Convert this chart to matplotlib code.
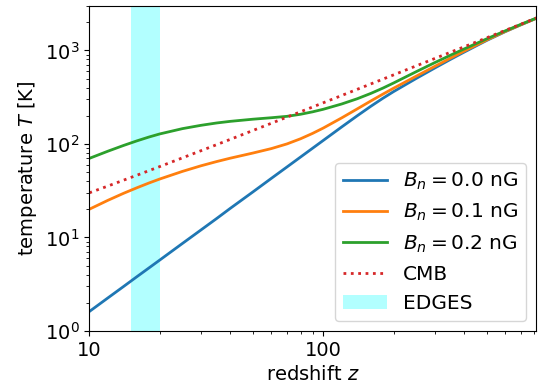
import matplotlib
matplotlib.use("Agg")
import matplotlib.pyplot as plt
from matplotlib.ticker import ScalarFormatter, NullFormatter

# redshift grid and gas temperatures (K)
z = [10, 12, 14, 16, 18, 20, 25, 30, 35, 40, 50, 60, 70, 80, 90, 100,
     120, 140, 160, 180, 200, 250, 300, 350, 400, 500, 600, 700, 815]
T_b00 = [1.61, 2.25, 2.98, 3.81, 4.72, 5.72, 8.61, 12.0, 15.9, 20.4, 30.6, 42.8, 56.7, 72.4, 89.8, 108.9,
         152, 200.6, 253.3, 308, 363, 502, 649, 802, 958, 1279, 1587, 1879, 2205]
T_b01 = [20.0, 24.9, 29.6, 34.0, 38.2, 42.1, 50.8, 58.3, 64.7, 70.3, 79.8, 89.1, 100.0, 113.5, 129.5, 147.7,
         190, 237.5, 288.5, 341, 394.5, 531, 676, 827, 982, 1294, 1597, 1885, 2207]
T_b02 = [70, 83.5, 96.2, 107.9, 118.5, 127.8, 145.6, 158.0, 167.4, 174.2, 183.7, 190.5, 197.2, 207.5, 220.2, 234.6,
         267.4, 304.6, 347.4, 395.4, 448.7, 593, 741, 889, 1036, 1330, 1619, 1900, 2220]
T_cmb = [29.98, 35.4, 40.9, 46.3, 51.8, 57.2, 70.9, 84.5, 98.1, 111.7, 139.0, 166.2, 193.5, 220.7, 248.0, 275.2,
         329.7, 384.2, 438.7, 493.2, 547.7, 684.0, 820.2, 956.5, 1092.7, 1365.2, 1637.7, 1910.2, 2223.6]

labels = [r'$B_n = 0.0$ nG', r'$B_n = 0.1$ nG', r'$B_n = 0.2$ nG']
edges = (15, 20)

plt.rcParams['font.size'] = 14

fig = plt.figure(figsize=(5.38, 3.87), dpi=100)
ax = fig.add_axes([0.166, 0.145, 0.831, 0.84])

ax.axvspan(edges[0], edges[1], color='cyan', alpha=0.3, lw=0, label='EDGES')
ax.plot(z, T_b00, color='tab:blue', lw=2, label=labels[0])
ax.plot(z, T_b01, color='tab:orange', lw=2, label=labels[1])
ax.plot(z, T_b02, color='tab:green', lw=2, label=labels[2])
ax.plot(z, T_cmb, color='tab:red', lw=2, ls=':', label='CMB')

ax.set_xscale('log')
ax.set_yscale('log')
ax.set_xlim(10, 815)
ax.set_ylim(1, 3000)
ax.xaxis.set_major_formatter(ScalarFormatter())
ax.xaxis.set_minor_formatter(NullFormatter())

ax.set_xlabel(r'redshift $z$')
ax.set_ylabel(r'temperature $T$ [K]')

h, l = ax.get_legend_handles_labels()
order = [1, 2, 3, 4, 0]
ax.legend([h[i] for i in order], [l[i] for i in order], loc='lower right',
          fontsize=14.5, handlelength=2.2)

fig.savefig('out.png', dpi=100)
